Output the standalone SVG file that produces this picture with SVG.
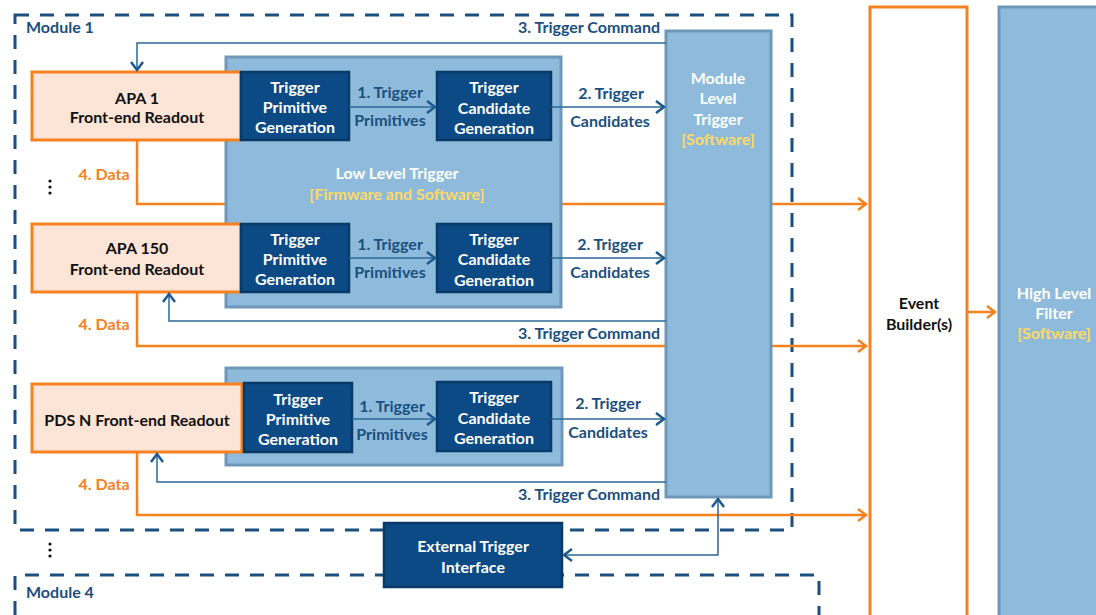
<svg xmlns="http://www.w3.org/2000/svg" width="1096" height="615" viewBox="0 0 1096 615">
<style>
.mod{fill:none;stroke:#1B4F80;stroke-width:3;stroke-dasharray:14 11}
.llt{fill:#8EBBDB;stroke:#6F97B8;stroke-width:3}
.ro{fill:#FCE4D6;stroke:#F6821F;stroke-width:3}
.db{fill:#0B4A84;stroke:#083A68;stroke-width:2.5}
.eb{fill:#fff;stroke:#F6821F;stroke-width:3}
.oc{fill:none;stroke:#F6821F;stroke-width:2.5}
.bc{fill:none;stroke:#2A6898;stroke-width:1.5}
text{font-family:Lato,"Open Sans","Liberation Sans",sans-serif;font-weight:bold;font-size:16px;text-anchor:middle}
.w{fill:#fff}.k{fill:#111}.b{fill:#1B4F80}.o{fill:#F6821F}.y{fill:#FFD966}
.s{text-anchor:start}.e{text-anchor:end}
</style>
<defs>
<marker id="ab" markerUnits="userSpaceOnUse" viewBox="-2 -2 14 16" markerWidth="14" markerHeight="16" refX="8" refY="6" orient="auto-start-reverse">
<path d="M0,0 L8,6 L0,12" fill="none" stroke="#1B5A8E" stroke-width="2.5"/>
</marker>
<marker id="ao" markerUnits="userSpaceOnUse" viewBox="-2 -2 14 16" markerWidth="14" markerHeight="16" refX="8" refY="6" orient="auto">
<path d="M0,0 L8,6 L0,12" fill="none" stroke="#F6821F" stroke-width="2.5"/>
</marker>
</defs>

<g id="module1"><rect class="mod" x="15" y="15" width="777" height="515"/><text class="b s" x="26" y="33">Module 1</text></g>
<g id="module4"><path class="mod" d="M15,640 V575 H819 V640"/><text class="b s" x="26" y="598">Module 4</text></g>

<g id="dots" fill="#111">
<circle cx="50" cy="181" r="1.6"/><circle cx="50" cy="187" r="1.6"/><circle cx="50" cy="193" r="1.6"/>
<circle cx="50" cy="544" r="1.6"/><circle cx="50" cy="550" r="1.6"/><circle cx="50" cy="556" r="1.6"/>
</g>

<g id="data-connectors">
<polyline class="oc" points="137,140 137,204 866,204" marker-end="url(#ao)"/>
<polyline class="oc" points="137,292 137,346 866,346" marker-end="url(#ao)"/>
<polyline class="oc" points="137,452 137,515 866,515" marker-end="url(#ao)"/>
<polyline class="oc" points="967,312 995,312" marker-end="url(#ao)"/>
<text class="o" x="104" y="180">4. Data</text>
<text class="o" x="104" y="330">4. Data</text>
<text class="o" x="104" y="490">4. Data</text>
</g>

<g id="llt1"><rect class="llt" x="226" y="57" width="335" height="250"/>
<text class="w" x="397" y="179">Low Level Trigger</text><text class="y" x="397" y="200">[Firmware and Software]</text></g>
<g id="llt3"><rect class="llt" x="226" y="368" width="336" height="97"/></g>

<g id="apa1"><rect class="ro" x="32" y="72" width="209" height="68"/>
<text class="k" x="137" y="104">APA 1</text><text class="k" x="137" y="123">Front-end Readout</text></g>
<g id="apa150"><rect class="ro" x="32" y="224" width="209" height="68"/>
<text class="k" x="137" y="254">APA 150</text><text class="k" x="137" y="275">Front-end Readout</text></g>
<g id="pdsn"><rect class="ro" x="32" y="384" width="210" height="68"/>
<text class="k" x="137" y="426">PDS N Front-end Readout</text></g>

<g id="tpg1"><rect class="db" x="241" y="72" width="108" height="68"/>
<text class="w" x="295" y="93">Trigger</text><text class="w" x="295" y="113">Primitive</text><text class="w" x="295" y="133">Generation</text></g>
<g id="tpg2"><rect class="db" x="241" y="224" width="108" height="68"/>
<text class="w" x="295" y="245">Trigger</text><text class="w" x="295" y="265">Primitive</text><text class="w" x="295" y="285">Generation</text></g>
<g id="tpg3"><rect class="db" x="244" y="383" width="108" height="69"/>
<text class="w" x="298" y="405">Trigger</text><text class="w" x="298" y="425">Primitive</text><text class="w" x="298" y="445">Generation</text></g>

<g id="tcg1"><rect class="db" x="437" y="72" width="114" height="68"/>
<text class="w" x="494" y="93">Trigger</text><text class="w" x="494" y="114">Candidate</text><text class="w" x="494" y="134">Generation</text></g>
<g id="tcg2"><rect class="db" x="437" y="224" width="114" height="68"/>
<text class="w" x="494" y="245">Trigger</text><text class="w" x="494" y="265">Candidate</text><text class="w" x="494" y="286">Generation</text></g>
<g id="tcg3"><rect class="db" x="437" y="382" width="114" height="69"/>
<text class="w" x="494" y="403">Trigger</text><text class="w" x="494" y="424">Candidate</text><text class="w" x="494" y="444">Generation</text></g>

<g id="mlt"><rect class="llt" x="666" y="31" width="105" height="466"/>
<text class="w" x="718" y="84">Module</text><text class="w" x="718" y="104">Level</text><text class="w" x="718" y="125">Trigger</text><text class="y" x="718" y="145">[Software]</text></g>

<g id="eti"><rect class="db" x="384" y="523" width="178" height="64"/>
<text class="w" x="473" y="552">External Trigger</text><text class="w" x="473" y="573">Interface</text></g>

<g id="eventbuilder"><rect class="eb" x="870" y="7" width="97" height="640"/>
<text class="k" x="919" y="309">Event</text><text class="k" x="919" y="330">Builder(s)</text></g>

<g id="hlf"><rect class="llt" x="999" y="7" width="120" height="640"/>
<text class="w" x="1054" y="299">High Level</text><text class="w" x="1054" y="319">Filter</text><text class="y" x="1054" y="339">[Software]</text></g>

<g id="trigger-connectors">
<polyline class="bc" points="666,43 137,43 137,70" marker-end="url(#ab)"/>
<polyline class="bc" points="666,321 169,321 169,294" marker-end="url(#ab)"/>
<polyline class="bc" points="666,482 157,482 157,454" marker-end="url(#ab)"/>
<polyline class="bc" points="564,555 718,555 718,499" marker-start="url(#ab)" marker-end="url(#ab)"/>
<line class="bc" x1="349" y1="107" x2="435" y2="107" marker-end="url(#ab)"/>
<line class="bc" x1="349" y1="258" x2="435" y2="258" marker-end="url(#ab)"/>
<line class="bc" x1="352" y1="419" x2="435" y2="419" marker-end="url(#ab)"/>
<line class="bc" x1="551" y1="107" x2="664" y2="107" marker-end="url(#ab)"/>
<line class="bc" x1="551" y1="258" x2="664" y2="258" marker-end="url(#ab)"/>
<line class="bc" x1="551" y1="419" x2="664" y2="419" marker-end="url(#ab)"/>
<text class="b e" x="660" y="33">3. Trigger Command</text>
<text class="b e" x="660" y="339">3. Trigger Command</text>
<text class="b e" x="660" y="500">3. Trigger Command</text>
<text class="b" x="390" y="98">1. Trigger</text><text class="b" x="390" y="126">Primitives</text>
<text class="b" x="390" y="250">1. Trigger</text><text class="b" x="390" y="278">Primitives</text>
<text class="b" x="392" y="412">1. Trigger</text><text class="b" x="392" y="440">Primitives</text>
<text class="b" x="611" y="99">2. Trigger</text><text class="b" x="610" y="127">Candidates</text>
<text class="b" x="610" y="250">2. Trigger</text><text class="b" x="610" y="278">Candidates</text>
<text class="b" x="608" y="409">2. Trigger</text><text class="b" x="608" y="438">Candidates</text>
</g>
</svg>
